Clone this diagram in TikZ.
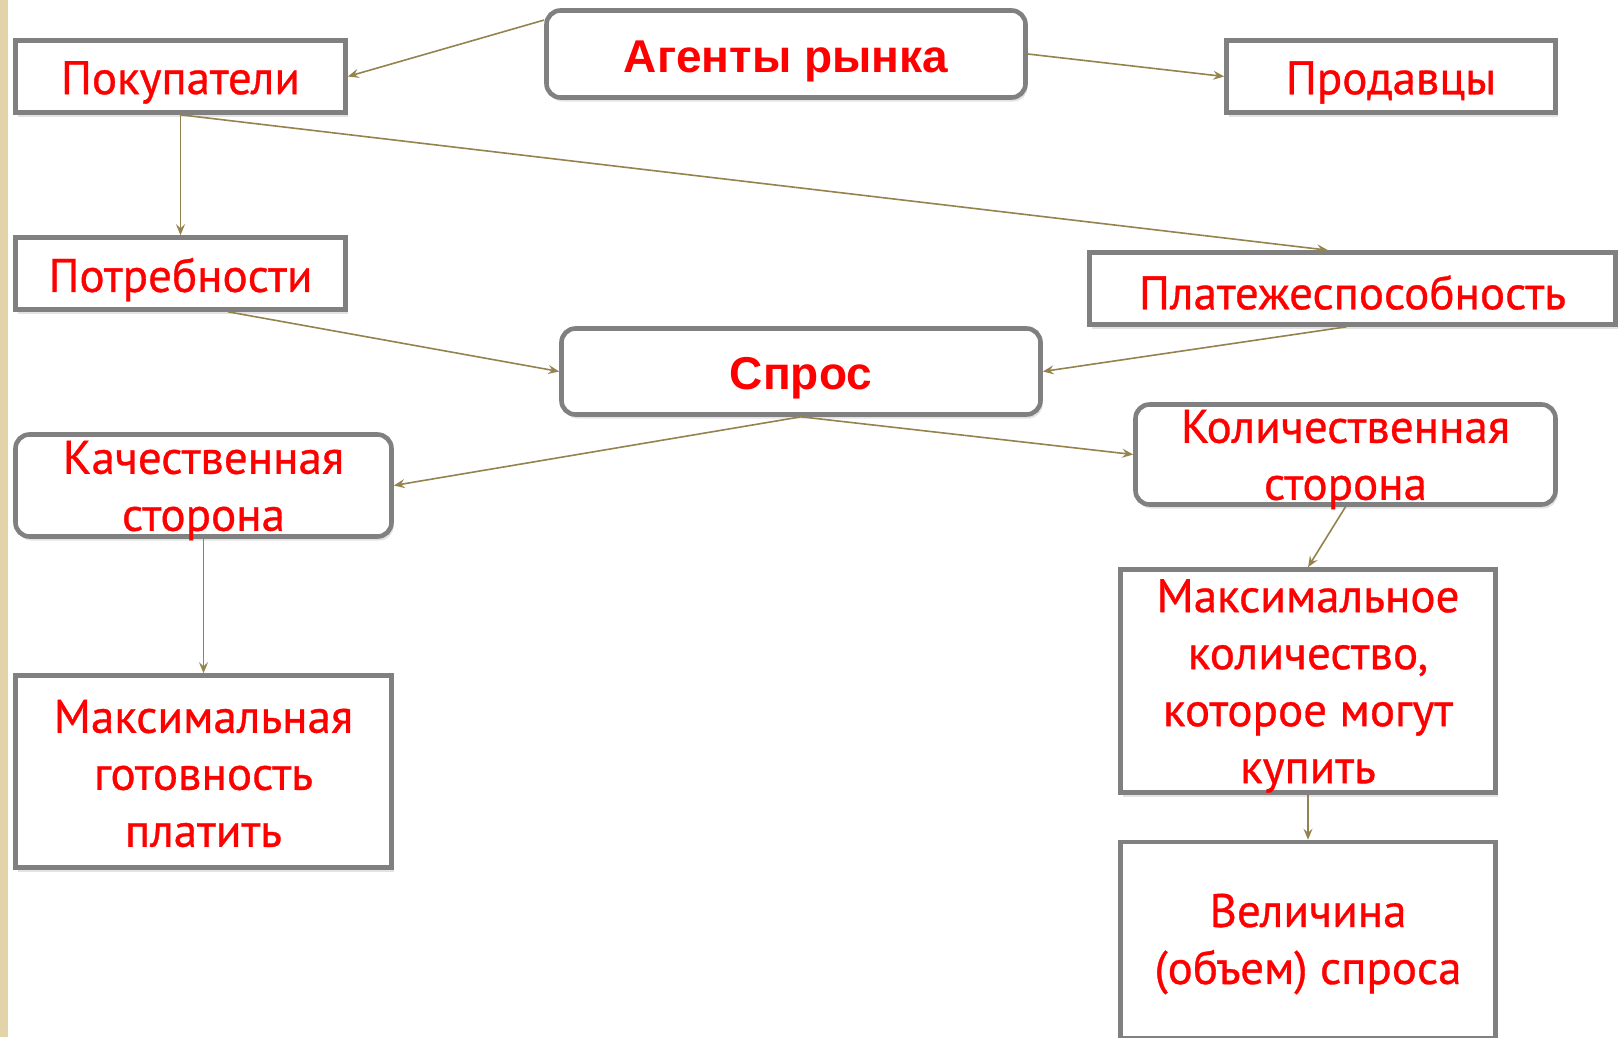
\documentclass[tikz,border=0pt]{standalone}
\usepackage{fontspec}
\setmainfont{PT Sans}
\newfontfamily\gillfont[FakeBold=0.7]{PT Sans}
\newfontfamily\arialfont{Liberation Sans}
\usetikzlibrary{arrows.meta,shadows}
\definecolor{boxgray}{HTML}{808080}
\definecolor{lineol}{HTML}{94834F}
\definecolor{stripbeige}{HTML}{E2D3A8}
\begin{document}
\begin{tikzpicture}[x=1pt,y=-1pt,
  box/.style={draw=boxgray, line width=4.6pt, fill=white, inner sep=0pt,
    drop shadow={opacity=0.22, shadow xshift=2pt, shadow yshift=-4pt}},
  rbox/.style={box, rounded corners=14pt},
  txt/.style={text=red, align=center, inner sep=0pt, font=\gillfont\fontsize{47}{57}\selectfont},
  boldtxt/.style={text=red, inner sep=0pt, font=\arialfont\bfseries\fontsize{46}{56}\selectfont},
  conn/.style={draw=lineol, line width=1.6pt, -{Stealth[length=11pt,width=9pt,inset=4pt]}}]
\useasboundingbox (0,0) rectangle (1624,1037);
\fill[white] (0,0) rectangle (1624,1037);
\fill[stripbeige] (0,0) rectangle (8,1037);

% boxes
\node[rbox, minimum width=479pt, minimum height=87pt] (agents) at (786,54) {};
\node[box, minimum width=330pt, minimum height=72pt] (pok) at (180.5,76.5) {};
\node[box, minimum width=329pt, minimum height=72pt] (prod) at (1391,76.5) {};
\node[box, minimum width=330pt, minimum height=72pt] (potr) at (180.5,273.5) {};
\node[box, minimum width=526pt, minimum height=72pt] (plat) at (1352.5,288.5) {};
\node[rbox, minimum width=479pt, minimum height=86pt] (spros) at (801,371.5) {};
\node[rbox, minimum width=376pt, minimum height=102pt] (kach) at (203.5,485.5) {};
\node[rbox, minimum width=420pt, minimum height=100pt] (kol) at (1345.5,454.5) {};
\node[box, minimum width=376pt, minimum height=192pt] (maxg) at (203.5,771.5) {};
\node[box, minimum width=375pt, minimum height=223pt] (maxk) at (1308,681) {};
\node[box, minimum width=375pt, minimum height=196pt] (vel) at (1308,940) {};

% texts
\node[boldtxt] (agents-t) at ([yshift=-7pt]agents.center) {Агенты рынка};
\node[txt] (pok-t) at ([yshift=-6pt]pok.center) {Покупатели};
\node[txt] (prod-t) at ([yshift=-6pt]prod.center) {Продавцы};
\node[txt] (potr-t) at ([yshift=-6pt]potr.center) {Потребности};
\node[txt] (plat-t) at ([yshift=-4pt]plat.center) {Платежеспособность};
\node[boldtxt] (spros-t) at ([yshift=-7pt]spros.center) {Спрос};
\node[txt] (kach-t) at ([yshift=-5pt]kach.center) {Качественная\\сторона};
\node[txt] (kol-t) at ([yshift=-5pt]kol.center) {Количественная\\сторона};
\node[txt] (maxg-t) at ([yshift=-2pt]maxg.center) {Максимальная\\готовность\\платить};
\node[txt] (maxk-t) at ([yshift=-5pt]maxk.center) {Максимальное\\количество,\\которое могут\\купить};
\node[txt] (vel-t) at ([yshift=-4pt]vel.center) {Величина\\(объем) спроса};

% connectors
\draw[conn] (agents.172.7) -- (pok.east);
\draw[conn] (agents.east) -- (prod.west);
\draw[conn] (pok.south) -- (potr.north);
\draw[conn] (pok.south) -- ([xshift=-24.5pt]plat.north);
\draw[conn] ([xshift=47.5pt]potr.south) -- (spros.west);
\draw[conn] ([xshift=-6pt]plat.south) -- (spros.east);
\draw[conn] (spros.south) -- (kach.east);
\draw[conn] (spros.south) -- (kol.west);
\draw[conn] (kol.south) -- (maxk.north);
\draw[conn] (kach.south) -- (maxg.north);
\draw[conn] (maxk.south) -- (vel.north);
\end{tikzpicture}
\end{document}
